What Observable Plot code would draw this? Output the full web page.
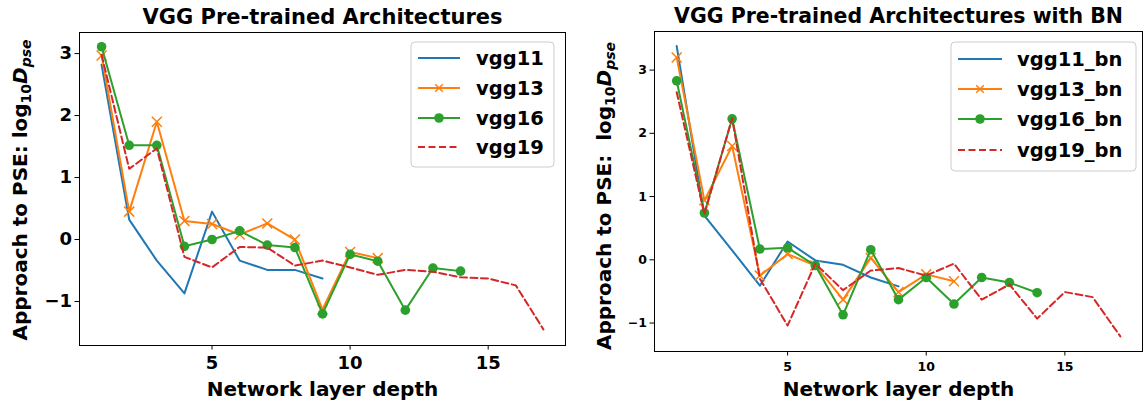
<!DOCTYPE html>
<html>
<head>
<meta charset="utf-8">
<script src="https://cdn.jsdelivr.net/npm/d3@7"></script>
<script src="https://cdn.jsdelivr.net/npm/@observablehq/plot@0.6"></script>
<style>
  html, body { margin: 0; padding: 0; background: #fff; }
  #wrap { position: relative; width: 1144px; height: 402px; overflow: hidden; }
  #wrap svg { position: absolute; top: 0; }
</style>
</head>
<body>
<div id="wrap"></div>
<script>
// ---- data ----
const depth = [1, 2, 3, 4, 5, 6, 7, 8, 9, 10, 11, 12, 13, 14, 15, 16, 17];
const xTicks = [5, 10, 15];
const yTicks = [-1, 0, 1, 2, 3];

const leftTitle = "VGG Pre-trained Architectures";
const rightTitle = "VGG Pre-trained Architectures with BN";
const xLabel = "Network layer depth";

const leftNames = ["vgg11", "vgg13", "vgg16", "vgg19"];
const vgg11 = [2.82, 0.32, -0.34, -0.87, 0.45, -0.34, -0.49, -0.49, -0.63];
const vgg13 = [2.97, 0.45, 1.90, 0.30, 0.25, 0.08, 0.26, 0.00, -1.13, -0.20, -0.30];
const vgg16 = [3.11, 1.52, 1.52, -0.11, 0.00, 0.14, -0.09, -0.13, -1.20, -0.24, -0.35, -1.14, -0.46, -0.51];
const vgg19 = [2.98, 1.14, 1.47, -0.28, -0.45, -0.12, -0.13, -0.42, -0.34, -0.45, -0.57, -0.49, -0.52, -0.61, -0.63, -0.74, -1.45];

const rightNames = ["vgg11_bn", "vgg13_bn", "vgg16_bn", "vgg19_bn"];
const vgg11_bn = [3.38, 0.70, 0.15, -0.41, 0.29, -0.01, -0.08, -0.28, -0.42];
const vgg13_bn = [3.20, 0.94, 1.80, -0.25, 0.09, -0.09, -0.63, 0.03, -0.51, -0.23, -0.34];
const vgg16_bn = [2.83, 0.74, 2.23, 0.17, 0.19, -0.09, -0.87, 0.16, -0.63, -0.28, -0.70, -0.28, -0.36, -0.52];
const vgg19_bn = [2.65, 0.72, 2.24, -0.30, -1.04, -0.06, -0.48, -0.17, -0.13, -0.25, -0.06, -0.63, -0.39, -0.93, -0.51, -0.59, -1.21];

const colors = ["#1f77b4", "#ff7f0e", "#2ca02c", "#d62728"];
const FONT = "'DejaVu Sans', sans-serif";

function toRows(values) {
  return values.map((v, i) => ({depth: depth[i], value: v}));
}

function panel(opts) {
  const rows = opts.series.map(toRows);
  const fmt = d => d < 0 ? "\u2212" + Math.abs(d) : String(d);
  const svg = Plot.plot({
    width: opts.width,
    height: 402,
    marginLeft: opts.ml,
    marginRight: opts.mr,
    marginTop: opts.mt,
    marginBottom: opts.mb,
    style: {fontFamily: FONT, fontWeight: "bold", fontSize: opts.tickFont + "px", color: "black", background: "white"},
    x: {domain: [0.2, 17.8]},
    y: {domain: opts.yDomain},
    marks: [
      Plot.axisX({ticks: xTicks, tickSize: 4.5, tickPadding: opts.xPad, label: null, fontSize: opts.tickFont, strokeWidth: 1}),
      Plot.axisY({ticks: yTicks, tickSize: 4.5, tickPadding: opts.yPad, tickFormat: fmt, label: null, fontSize: opts.tickFont, strokeWidth: 1}),
      Plot.line(rows[0], {x: "depth", y: "value", stroke: colors[0], strokeWidth: 2}),
      Plot.line(rows[1], {x: "depth", y: "value", stroke: colors[1], strokeWidth: 2}),
      Plot.dot(rows[1], {x: "depth", y: "value", stroke: colors[1], symbol: "times", r: 4.6, strokeWidth: 1.5}),
      Plot.line(rows[2], {x: "depth", y: "value", stroke: colors[2], strokeWidth: 2}),
      Plot.dot(rows[2], {x: "depth", y: "value", fill: colors[2], symbol: "circle", r: 4.8}),
      Plot.line(rows[3], {x: "depth", y: "value", stroke: colors[3], strokeWidth: 2, strokeDasharray: "7,3.5"}),
      Plot.frame({stroke: "black", strokeWidth: 1}),
      Plot.text([opts.title], {frameAnchor: "top", dy: -9, fontSize: opts.titleFont, fontWeight: "bold", lineAnchor: "bottom"}),
      Plot.text([xLabel], {frameAnchor: "bottom", dy: opts.xLabelDy, fontSize: 20, fontWeight: "bold", lineAnchor: "bottom"})
    ]
  });
  svg.style.left = opts.left + "px";
  const s = d3.select(svg);
  // y label with sub/superscripts
  const yl = s.append("text")
    .attr("transform", `translate(${opts.yLabelX},${opts.yLabelY}) rotate(-90)`)
    .attr("text-anchor", "middle")
    .attr("font-family", FONT)
    .attr("font-weight", "bold")
    .attr("font-size", 20)
    .attr("fill", "black");
  yl.append("tspan").text(opts.yLabelPrefix);
  yl.append("tspan").attr("font-size", 14).attr("dy", 4).text("10");
  yl.append("tspan").attr("font-style", "italic").attr("dy", -4).text("D");
  yl.append("tspan").attr("font-style", "italic").attr("font-size", 14).attr("dy", 4).text("pse");

  // legend
  const L = opts.legend;
  const g = s.append("g").attr("text-anchor", "start");
  g.append("rect").attr("x", L.x).attr("y", L.y).attr("width", L.w).attr("height", L.h)
    .attr("rx", 4).attr("fill", "white").attr("fill-opacity", 0.8).attr("stroke", "#cccccc").attr("stroke-width", 1);
  opts.names.forEach((name, i) => {
    const cy = L.rows[i];
    const ln = g.append("line").attr("x1", L.h1).attr("x2", L.h2).attr("y1", cy).attr("y2", cy)
      .attr("stroke", colors[i]).attr("stroke-width", 2);
    if (i === 3) ln.attr("stroke-dasharray", "7,3.5");
    const mx = (L.h1 + L.h2) / 2;
    if (i === 1) {
      const d = 3.8;
      g.append("path").attr("d", `M${mx - d},${cy - d}L${mx + d},${cy + d}M${mx - d},${cy + d}L${mx + d},${cy - d}`)
        .attr("stroke", colors[1]).attr("stroke-width", 1.5);
    }
    if (i === 2) g.append("circle").attr("cx", mx).attr("cy", cy).attr("r", 4.8).attr("fill", colors[2]);
    g.append("text").attr("x", L.tx).attr("y", cy).attr("dy", "0.35em").attr("text-anchor", "start")
      .attr("font-family", FONT).attr("font-weight", "bold").attr("font-size", 19.5).attr("fill", "black").text(name);
  });
  return svg;
}

const wrap = document.getElementById("wrap");

wrap.appendChild(panel({
  left: 0, width: 572, ml: 79, mr: 7, mt: 32, mb: 57,
  yDomain: [-1.71, 3.34], tickFont: 18, xPad: 6, yPad: 3, titleFont: 21,
  series: [vgg11, vgg13, vgg16, vgg19], names: leftNames, title: leftTitle,
  xLabelDy: 50, yLabelX: 27, yLabelY: 190, yLabelPrefix: "Approach to PSE: log",
  legend: {x: 411, y: 42, w: 143, h: 125, rows: [58, 88, 118, 147], h1: 418, h2: 460, tx: 476}
}));

wrap.appendChild(panel({
  left: 572, width: 572, ml: 82, mr: 2, mt: 31, mb: 51,
  yDomain: [-1.45, 3.61], tickFont: 12.5, xPad: 6, yPad: 3, titleFont: 20.5,
  series: [vgg11_bn, vgg13_bn, vgg16_bn, vgg19_bn], names: rightNames, title: rightTitle,
  xLabelDy: 44, yLabelX: 39, yLabelY: 196, yLabelPrefix: "Approach to PSE:  log",
  legend: {x: 379, y: 42, w: 185, h: 129, rows: [59, 89, 119, 150], h1: 386, h2: 430, tx: 445}
}));
</script>
</body>
</html>
